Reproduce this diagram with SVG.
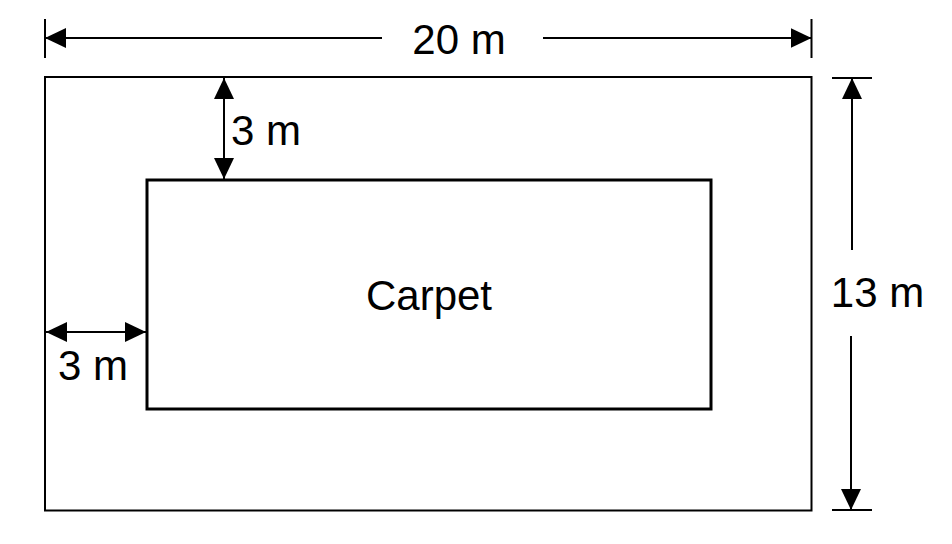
<svg xmlns="http://www.w3.org/2000/svg" width="952" height="544" viewBox="0 0 952 544">
<style>
.dim{stroke:#000;stroke-width:2;fill:none}
.lbl{font-family:"Liberation Sans",Arial,sans-serif;font-size:42px;fill:#000}
</style>
<defs>
<marker id="ah" markerUnits="userSpaceOnUse" markerWidth="21" markerHeight="20" refX="21" refY="10" orient="auto-start-reverse" viewBox="0 0 21 20">
<path d="M0,0 L21,10 L0,20 z" fill="#000"/>
</marker>
</defs>
<rect width="952" height="544" fill="#fff"/>
<g id="room">
<rect x="45" y="77" width="766.5" height="433.5" fill="none" stroke="#000" stroke-width="2"/>
</g>
<g id="carpet">
<rect x="147" y="180" width="564" height="229" fill="none" stroke="#000" stroke-width="3"/>
<text class="lbl" x="429" y="310" text-anchor="middle">Carpet</text>
</g>
<g id="connectors">
<line class="dim" x1="45" y1="19" x2="45" y2="58"/>
<line class="dim" x1="811.5" y1="19" x2="811.5" y2="58"/>
<line class="dim" x1="382" y1="38" x2="45" y2="38" marker-end="url(#ah)"/>
<line class="dim" x1="543" y1="38" x2="811.5" y2="38" marker-end="url(#ah)"/>
<line class="dim" x1="832" y1="78" x2="872" y2="78"/>
<line class="dim" x1="832" y1="510" x2="872" y2="510"/>
<line class="dim" x1="852" y1="250" x2="852" y2="78" marker-end="url(#ah)"/>
<line class="dim" x1="851" y1="336" x2="851" y2="510" marker-end="url(#ah)"/>
<line class="dim" x1="224" y1="78" x2="224" y2="179" marker-start="url(#ah)" marker-end="url(#ah)"/>
<line class="dim" x1="46" y1="332" x2="146" y2="332" marker-start="url(#ah)" marker-end="url(#ah)"/>
</g>
<g id="labels">
<text class="lbl" x="459" y="54" text-anchor="middle">20 m</text>
<text class="lbl" x="877.5" y="307" text-anchor="middle">13 m</text>
<text class="lbl" x="231" y="145">3 m</text>
<text class="lbl" x="58" y="380">3 m</text>
</g>
</svg>
